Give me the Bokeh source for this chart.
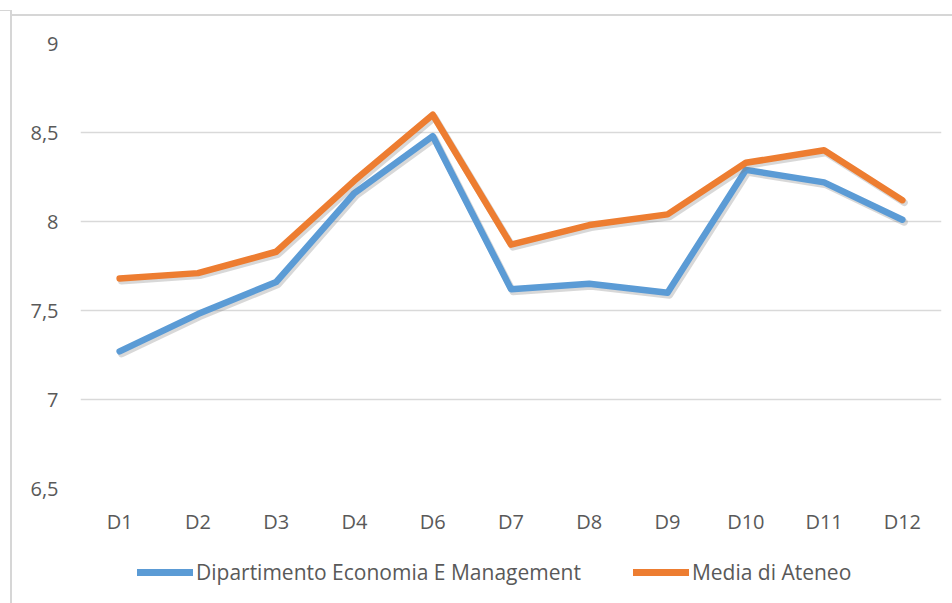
import numpy as np
from bokeh.plotting import figure
from bokeh.layouts import column
from bokeh.models import (ColumnDataSource, FactorRange, FixedTicker, Legend,
                          LegendItem, Range1d)
from bokeh.transform import dodge
from bokeh.embed import file_html
from bokeh.resources import INLINE

categories = ["D1", "D2", "D3", "D4", "D6", "D7", "D8", "D9", "D10", "D11", "D12"]
dipartimento = [7.27, 7.48, 7.66, 8.16, 8.48, 7.62, 7.65, 7.60, 8.29, 8.22, 8.01]
ateneo = [7.68, 7.71, 7.83, 8.23, 8.60, 7.87, 7.98, 8.04, 8.33, 8.40, 8.12]
y_ticks = [6.5, 7, 7.5, 8, 8.5, 9]
y_tick_labels = ["6,5", "7", "7,5", "8", "8,5", "9"]
series_names = ["Dipartimento Economia E Management", "Media di Ateneo"]

BLUE = "#5B9BD5"
ORANGE = "#ED7D31"
TEXT = "#595959"
FONT = "Open Sans"
BORDER = "#d6d6d6"
LW = 6.5

MAIN_H = 545
LEG_H = 603 - MAIN_H

p = figure(width=952, height=MAIN_H, x_range=FactorRange(*categories),
           y_range=(6.5, 9), output_backend="svg", toolbar_location=None,
           min_border_left=80, min_border_right=11, min_border_top=43,
           min_border_bottom=MAIN_H - 488)
p.outline_line_color = None
p.background_fill_color = "white"
p.border_fill_color = None

# grid
p.xgrid.grid_line_color = None
p.ygrid.grid_line_color = "#d9d9d9"
p.ygrid.grid_line_width = 1.5
p.yaxis.ticker = FixedTicker(ticks=y_ticks)
p.yaxis.major_label_overrides = {t: l for t, l in zip(y_ticks, y_tick_labels)}

for ax in (p.xaxis[0], p.yaxis[0]):
    ax.axis_line_color = None
    ax.major_tick_line_color = None
    ax.minor_tick_line_color = None
    ax.major_tick_out = 0
    ax.major_tick_in = 0
    ax.major_label_text_font = FONT
    ax.major_label_text_font_size = "20px"
    ax.major_label_text_color = TEXT
p.xaxis.major_label_standoff = 19
p.yaxis.major_label_standoff = 22

# shadow offsets (pixels converted to data units)
px_per_unit_y = 445 / 2.5
sh_dy = 2.5 / px_per_unit_y

src = ColumnDataSource(dict(
    x=categories,
    d=dipartimento,
    a=ateneo,
    ds=list(np.array(dipartimento) - sh_dy),
    as_=list(np.array(ateneo) - sh_dy),
))

sx = dodge("x", 0.025, range=p.x_range)
p.line(x=sx, y="ds", source=src, line_color="#7f7f7f", line_alpha=0.3,
       line_width=LW + 0.5, line_join="round", line_cap="round")
p.line(x="x", y="d", source=src, line_color=BLUE, line_width=LW,
       line_join="round", line_cap="round")
p.line(x=sx, y="as_", source=src, line_color="#7f7f7f", line_alpha=0.3,
       line_width=LW + 0.5, line_join="round", line_cap="round")
p.line(x="x", y="a", source=src, line_color=ORANGE, line_width=LW,
       line_join="round", line_cap="round")

# legend strip below the chart (its frame is aligned with the chart's frame)
leg = figure(width=952, height=LEG_H, x_range=Range1d(0, 1), y_range=Range1d(0, 1),
             x_axis_type=None, y_axis_type=None, output_backend="svg",
             toolbar_location=None, min_border=0)
leg.outline_line_color = None
leg.background_fill_color = None
leg.border_fill_color = None
leg.xgrid.visible = False
leg.ygrid.visible = False
legend_src = ColumnDataSource(dict(x=[np.nan], y=[np.nan]))
lb = leg.line("x", "y", source=legend_src, line_color=BLUE, line_width=LW + 0.5,
              line_cap="round")
lo = leg.line("x", "y", source=legend_src, line_color=ORANGE, line_width=LW + 0.5,
              line_cap="round")

legend = Legend(items=[LegendItem(label=series_names[0], renderers=[lb]),
                       LegendItem(label=series_names[1], renderers=[lo])],
                orientation="horizontal", location=(57, 17))
legend.label_text_font = FONT
legend.label_text_font_size = "21px"
legend.label_text_color = TEXT
legend.glyph_width = 56
legend.glyph_height = 20
legend.label_standoff = 3
legend.spacing = 52
legend.padding = 0
legend.margin = 0
legend.border_line_color = None
legend.background_fill_alpha = 0
leg.add_layout(legend, "center")

layout = column(p, leg, spacing=0)
# light border of the chart object (left and top edges)
layout.styles = {
    "background": (
        f"linear-gradient({BORDER},{BORDER}) 10px 10px / 2px 100% no-repeat, "
        f"linear-gradient({BORDER},{BORDER}) 10px 14px / 100% 2px no-repeat, "
        f"linear-gradient({BORDER},{BORDER}) 0px 10px / 11px 1px no-repeat, "
        "white"
    )
}

open("out.html", "w").write(file_html(layout, INLINE))
